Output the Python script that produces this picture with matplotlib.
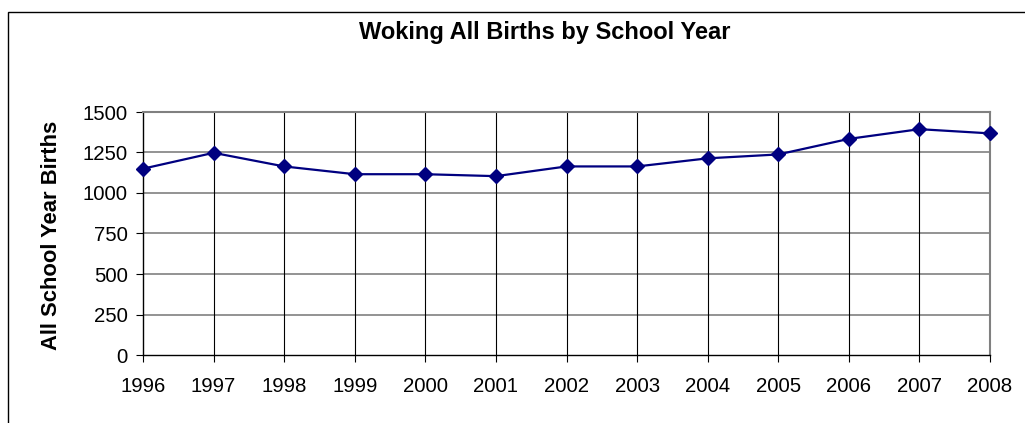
import matplotlib
matplotlib.use("Agg")
import matplotlib.pyplot as plt
from matplotlib.patches import Rectangle

years = [1996, 1997, 1998, 1999, 2000, 2001, 2002, 2003, 2004, 2005, 2006, 2007, 2008]
births = [1150, 1248, 1164, 1116, 1116, 1104, 1164, 1164, 1214, 1238, 1334, 1394, 1368]
yticks = [0, 250, 500, 750, 1000, 1250, 1500]

plt.rcParams['font.family'] = ['Liberation Sans', 'DejaVu Sans']

W, H = 1025, 423
fig = plt.figure(figsize=(W / 100, H / 100), dpi=100)
fig.patch.set_facecolor('white')

# outer chart border
fig.patches.append(Rectangle((8 / W, -0.1), 1.2, (H - 12) / H + 0.1,
                             transform=fig.transFigure, fill=False,
                             edgecolor='black', linewidth=1.0))

ax = fig.add_axes([143 / W, 1 - 355 / H, (990 - 143) / W, (355 - 112) / H])
ax.plot(years, births, color='#000080', linewidth=1.6, marker='D',
        markersize=7.5, markerfacecolor='#000080', markeredgecolor='#000080',
        zorder=5, clip_on=False)

ax.set_xlim(1996, 2008)
ax.set_ylim(0, 1500)
ax.set_xticks(years)
ax.set_xticklabels([str(y) for y in years], fontsize=14.7)
ax.set_yticks(yticks)
ax.set_yticklabels([str(v) for v in yticks], fontsize=14.7)

for v in yticks[1:]:
    ax.axhline(v, color='#808080', linewidth=1.2, zorder=1)
for y in years[1:]:
    ax.axvline(y, color='black', linewidth=0.8, zorder=1)

ax.spines['left'].set_color('black')
ax.spines['bottom'].set_color('black')
ax.spines['left'].set_linewidth(1.0)
ax.spines['bottom'].set_linewidth(1.0)
ax.spines['top'].set_color('#808080')
ax.spines['right'].set_color('#808080')
ax.spines['top'].set_linewidth(1.5)
ax.spines['right'].set_linewidth(1.5)

ax.tick_params(axis='both', direction='out', length=5, width=0.8, color='black')
ax.tick_params(axis='x', pad=11)
ax.tick_params(axis='y', pad=6)

fig.text(52 / W, 1 - 235 / H, 'All School Year Births', rotation=90,
         ha='center', va='center', fontsize=15.8, fontweight='bold')

fig.text(545 / W, 1 - 33 / H, 'Woking All Births by School Year', ha='center',
         va='center', fontsize=17, fontweight='bold')

fig.savefig('out.png', dpi=100)
